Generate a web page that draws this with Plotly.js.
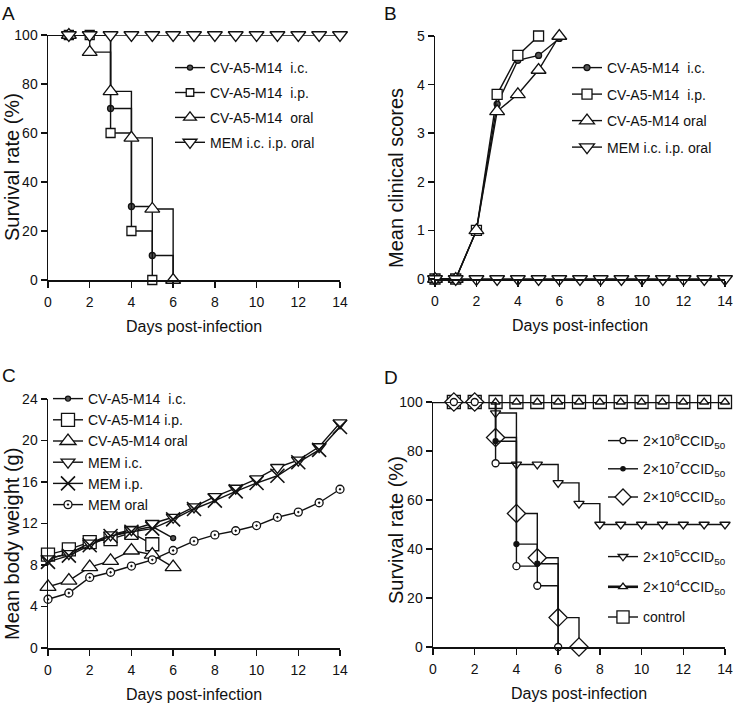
<!DOCTYPE html>
<html>
<head>
<meta charset="utf-8">
<script src="https://cdn.plot.ly/plotly-3.0.1.min.js"></script>
<style>html,body{margin:0;padding:0;background:#fff}#chart{width:733px;height:707px}</style>
</head>
<body>
<div id="chart"></div>
<script>
// ---------- Data ----------
// Panel A: survival (%)
const daysA_ic = [0,1,2,3,4,5,6];
const survA_ic = [100,100,100,70,30,10,0];
const daysA_ip = [0,1,2,3,4,5];
const survA_ip = [100,100,100,60,20,0];
const daysA_oral = [0,1,2,3,4,5,6];
const survA_oral = [100,100,93,77,58,29,0];
const daysA_mem = [0,1,2,3,4,5,6,7,8,9,10,11,12,13,14];
const survA_mem = [100,100,100,100,100,100,100,100,100,100,100,100,100,100,100];

// Panel B: mean clinical scores
const daysB_ic = [0,1,2,3,4,5,6];
const scoreB_ic = [0,0,1,3.6,4.5,4.6,4.95];
const daysB_ip = [0,1,2,3,4,5];
const scoreB_ip = [0,0,1,3.8,4.6,5.0];
const daysB_oral = [0,1,2,3,4,5,6];
const scoreB_oral = [0,0,1,3.45,3.8,4.3,5.0];
const daysB_mem = [0,1,2,3,4,5,6,7,8,9,10,11,12,13,14];
const scoreB_mem = [0,0,0,0,0,0,0,0,0,0,0,0,0,0,0];

// Panel C: mean body weight (g)
const daysC_ic = [0,1,2,3,4,5,6];
const wC_ic = [8.6,9.1,10.0,10.8,11.3,11.7,10.6];
const daysC_ip = [0,1,2,3,4,5];
const wC_ip = [9.0,9.5,10.2,10.5,11.1,10.0];
const daysC_oral = [0,1,2,3,4,5,6];
const wC_oral = [5.9,6.5,7.8,8.4,9.4,9.0,7.8];
const daysC_mem = [0,1,2,3,4,5,6,7,8,9,10,11,12,13,14];
const wC_memic = [8.6,9.1,10.1,10.9,11.4,12.0,12.6,13.6,14.6,15.4,16.3,17.4,18.1,19.4,21.7];
const wC_memip = [8.3,8.9,9.9,10.8,11.2,11.5,12.4,13.4,14.2,15.1,15.9,16.6,17.9,19.1,21.3];
const wC_memoral = [4.7,5.3,6.8,7.3,7.9,8.5,9.4,10.3,10.9,11.3,11.8,12.6,13.1,14.0,15.3];

// Panel D: survival (%) by dose
const daysD_8 = [0,1,2,3,4,5,6];
const survD_8 = [100,100,100,75,33,25,0];
const daysD_7 = [0,1,2,3,4,5,6];
const survD_7 = [100,100,100,84,42,34,0];
const daysD_6 = [0,1,2,3,4,5,6,7];
const survD_6 = [100,100,100,85.5,54.5,36.4,12,0];
const daysD_5 = [0,1,2,3,4,5,6,7,8,9,10,11,12,13,14];
const survD_5 = [100,100,100,95.5,74.5,74.5,67,58.5,50,50,50,50,50,50,50];
const daysD_4 = [0,1,2,3,4,5,6,7,8,9,10,11,12,13,14];
const survD_4 = [100,100,100,100,100,100,100,100,100,100,100,100,100,100,100];
const daysD_ctrl = [0,1,2,3,4,5,6,7,8,9,10,11,12,13,14];
const survD_ctrl = [100,100,100,100,100,100,100,100,100,100,100,100,100,100,100];

const xTicks = [0,2,4,6,8,10,12,14];

// ---------- Styles ----------
const FONT = '"Liberation Sans", Arial, sans-serif';
const INK = '#111';
const W = 733, H = 707;

function sizesHideZero(days, s) { return days.map(d => d === 0 ? 0 : s); }

function tr(x, y, name, opt) {
  return {
    type: 'scatter', mode: 'lines+markers', x: x, y: y, name: name,
    xaxis: opt.xa, yaxis: opt.ya, legend: opt.lg, legendgroup: name + opt.xa,
    legendrank: opt.rank || 1000,
    cliponaxis: false,
    line: {color: INK, width: opt.lw || 1.4, shape: opt.shape || 'linear'},
    marker: {
      symbol: opt.sym, size: opt.size, opacity: 1,
      color: opt.fill || '#fff',
      line: {color: INK, width: opt.mlw || 1.3}
    }
  };
}

const traces = [
  // A
  tr(daysA_ic, survA_ic, 'CV-A5-M14\u00a0\u00a0i.c.', {xa:'x', ya:'y', lg:'legend', shape:'hv', sym:'circle', size:sizesHideZero(daysA_ic,6), fill:'#555'}),
  tr(daysA_ip, survA_ip, 'CV-A5-M14\u00a0\u00a0i.p.', {xa:'x', ya:'y', lg:'legend', shape:'hv', sym:'square', size:sizesHideZero(daysA_ip,9)}),
  tr(daysA_oral, survA_oral, 'CV-A5-M14\u00a0\u00a0oral', {xa:'x', ya:'y', lg:'legend', shape:'hv', sym:'triangle-up', size:sizesHideZero(daysA_oral,13)}),
  tr(daysA_mem, survA_mem, 'MEM i.c. i.p. oral', {xa:'x', ya:'y', lg:'legend', shape:'hv', sym:'triangle-down', size:sizesHideZero(daysA_mem,13)}),
  // B
  tr(daysB_ic, scoreB_ic, 'CV-A5-M14\u00a0\u00a0i.c.', {xa:'x2', ya:'y2', lg:'legend2', sym:'circle', size:6, fill:'#555'}),
  tr(daysB_ip, scoreB_ip, 'CV-A5-M14\u00a0\u00a0i.p.', {xa:'x2', ya:'y2', lg:'legend2', sym:'square', size:10}),
  tr(daysB_oral, scoreB_oral, 'CV-A5-M14 oral', {xa:'x2', ya:'y2', lg:'legend2', sym:'triangle-up', size:13}),
  tr(daysB_mem, scoreB_mem, 'MEM i.c. i.p. oral', {xa:'x2', ya:'y2', lg:'legend2', sym:'triangle-down', size:13}),
  // C
  tr(daysC_ic, wC_ic, 'CV-A5-M14\u00a0\u00a0i.c.', {xa:'x3', ya:'y3', lg:'legend3', sym:'circle', size:5, fill:'#555'}),
  tr(daysC_ip, wC_ip, 'CV-A5-M14 i.p.', {xa:'x3', ya:'y3', lg:'legend3', sym:'square', size:13}),
  tr(daysC_oral, wC_oral, 'CV-A5-M14 oral', {xa:'x3', ya:'y3', lg:'legend3', sym:'triangle-up', size:14}),
  tr(daysC_mem, wC_memic, 'MEM i.c.', {xa:'x3', ya:'y3', lg:'legend3', sym:'triangle-down', size:12}),
  tr(daysC_mem, wC_memip, 'MEM i.p.', {xa:'x3', ya:'y3', lg:'legend3', sym:'x-thin-open', size:14, mlw:1.6, fill:INK}),
  tr(daysC_mem, wC_memoral, 'MEM oral', {xa:'x3', ya:'y3', lg:'legend3', sym:'circle-dot', size:8}),
  // D (drawing order: control underneath; legend order via legendrank)
  tr(daysD_ctrl, survD_ctrl, 'control', {xa:'x4', ya:'y4', lg:'legend5', rank:30, shape:'hv', sym:'square', size:sizesHideZero(daysD_ctrl,13)}),
  tr(daysD_4, survD_4, '2\u00d710<sup>4</sup>CCID<sub>50</sub>', {xa:'x4', ya:'y4', lg:'legend5', rank:20, shape:'hv', sym:'triangle-up', size:sizesHideZero(daysD_4,8), lw:2.6}),
  tr(daysD_5, survD_5, '2\u00d710<sup>5</sup>CCID<sub>50</sub>', {xa:'x4', ya:'y4', lg:'legend5', rank:10, shape:'hv', sym:'triangle-down', size:sizesHideZero(daysD_5,9)}),
  tr(daysD_6, survD_6, '2\u00d710<sup>6</sup>CCID<sub>50</sub>', {xa:'x4', ya:'y4', lg:'legend4', rank:30, shape:'hv', sym:'diamond', size:sizesHideZero(daysD_6,14)}),
  tr(daysD_7, survD_7, '2\u00d710<sup>7</sup>CCID<sub>50</sub>', {xa:'x4', ya:'y4', lg:'legend4', rank:20, shape:'hv', sym:'circle', size:sizesHideZero(daysD_7,5), fill:INK}),
  tr(daysD_8, survD_8, '2\u00d710<sup>8</sup>CCID<sub>50</sub>', {xa:'x4', ya:'y4', lg:'legend4', rank:10, shape:'hv', sym:'circle', size:sizesHideZero(daysD_8,7)}),
];

function xax(domain, anchor) {
  return {
    domain: domain, anchor: anchor, range: [0,14], tickvals: xTicks,
    showgrid: false, zeroline: false, showline: true, linecolor: INK, linewidth: 1.5,
    ticks: 'outside', ticklen: 6, tickwidth: 1.5, tickcolor: INK, ticklabelstandoff: 3,
    tickfont: {family: FONT, size: 14, color: INK},
    title: {text: 'Days post-infection', font: {family: FONT, size: 16, color: INK}, standoff: 11},
    automargin: false, fixedrange: true
  };
}
function yax(domain, anchor, range, dtick) {
  return {
    domain: domain, anchor: anchor, range: range, dtick: dtick, tick0: 0,
    showgrid: false, zeroline: false, showline: true, linecolor: INK, linewidth: 1.5,
    ticks: 'outside', ticklen: 6, tickwidth: 1.5, tickcolor: INK, ticklabelstandoff: 0,
    tickfont: {family: FONT, size: 14, color: INK},
    automargin: false, fixedrange: true
  };
}
function lg(xpx, ytop, gap) {
  return {
    x: xpx / W, y: 1 - ytop / H, xanchor: 'left', yanchor: 'top',
    bgcolor: 'rgba(0,0,0,0)', borderwidth: 0,
    font: {family: FONT, size: 14, color: INK},
    tracegroupgap: gap, traceorder: 'grouped', itemwidth: 30
  };
}
function letter(t, xpx, ypx) {
  return {text: t, x: xpx / W, y: 1 - ypx / H, xref: 'paper', yref: 'paper', xanchor: 'left', yanchor: 'top',
    showarrow: false, font: {family: FONT, size: 19, color: INK}};
}
function ytitle(t, xpx, ypx) {
  return {text: t, x: xpx / W, y: 1 - ypx / H, xref: 'paper', yref: 'paper', xanchor: 'center', yanchor: 'middle',
    textangle: -90, showarrow: false, font: {family: FONT, size: 20, color: INK}};
}

const layout = {
  width: W, height: H,
  margin: {l: 0, r: 0, t: 0, b: 0},
  paper_bgcolor: '#fff', plot_bgcolor: 'rgba(0,0,0,0)',
  showlegend: true,
  xaxis:  xax([48/W, 340/W], 'y'),
  yaxis:  yax([1-280/H, 1-35/H], 'x', [0,100], 20),
  xaxis2: xax([435/W, 725/W], 'y2'),
  yaxis2: yax([1-279/H, 1-36/H], 'x2', [0,5], 1),
  xaxis3: xax([48/W, 340/W], 'y3'),
  yaxis3: yax([1-648/H, 1-399/H], 'x3', [0,24], 4),
  xaxis4: xax([433/W, 725/W], 'y4'),
  yaxis4: yax([1-647/H, 1-402/H], 'x4', [0,100], 20),
  legend:  lg(170, 52, 3.7),
  legend2: lg(567, 52, 5.3),
  legend3: lg(48, 383, 0),
  legend4: lg(603, 425, 7),
  legend5: lg(603, 541, 9),
  annotations: [
    letter('A', 0, 1), letter('B', 382, 1), letter('C', 0, 363), letter('D', 382, 365),
    ytitle('Survival rate (%)', 12, 167),
    ytitle('Mean clinical scores', 396, 178),
    ytitle('Mean body weight (g)', 12, 544),
    ytitle('Survival rate (%)', 396, 530)
  ]
};

Plotly.newPlot('chart', traces, layout, {displayModeBar: false, staticPlot: true});
</script>
</body>
</html>
